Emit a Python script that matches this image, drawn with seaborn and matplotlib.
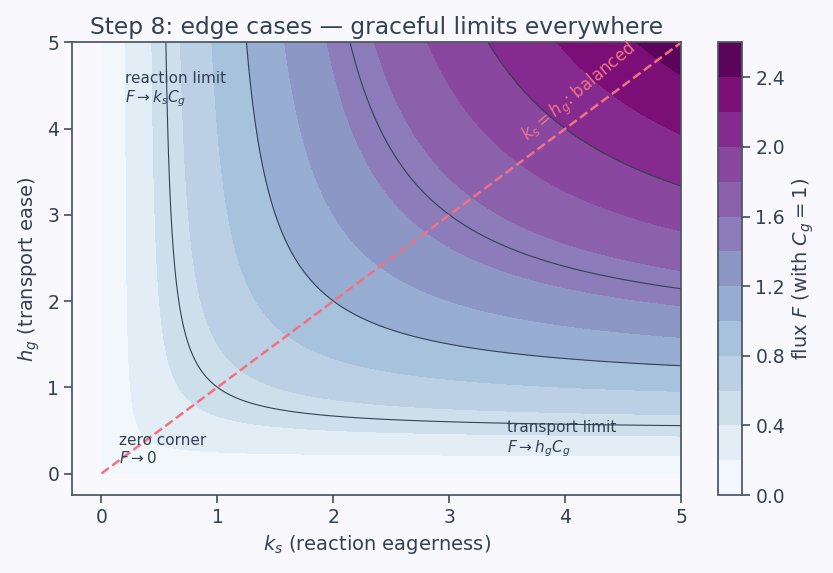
import matplotlib
matplotlib.use("Agg")
import matplotlib.pyplot as plt
import numpy as np
import seaborn as sns

# flux F = ks*hg/(ks+hg) * Cg, with Cg = 1
Cg = 1.0
ks_range = (0.0, 5.0)
hg_range = (0.0, 5.0)
fill_levels = np.round(np.arange(0.0, 2.61, 0.2), 2)
line_levels = [0.5, 1.0, 1.5, 2.0, 2.5]
cbar_ticks = [0.0, 0.4, 0.8, 1.2, 1.6, 2.0, 2.4]
ticks = [0, 1, 2, 3, 4, 5]

ink = "#334155"
bg = "#f9f9fd"

sns.set_theme(style="ticks")
plt.rcParams.update({
    "figure.facecolor": bg,
    "axes.facecolor": bg,
    "axes.edgecolor": "#4b5563",
    "axes.labelcolor": ink,
    "axes.labelsize": 14,
    "xtick.labelsize": 13.5,
    "ytick.labelsize": 13.5,
    "xtick.color": "#4b5563",
    "ytick.color": "#4b5563",
    "xtick.labelcolor": ink,
    "ytick.labelcolor": ink,
    "text.color": ink,
})
plt.rcParams["font.family"] = ["DejaVu Sans"]

ks = np.linspace(*ks_range, 400)
hg = np.linspace(*hg_range, 400)
K, H = np.meshgrid(ks, hg)
with np.errstate(invalid="ignore", divide="ignore"):
    F = np.where(K + H > 0, K * H / (K + H), 0.0) * Cg

fig = plt.figure(figsize=(8.33, 5.73), dpi=100)
ax = fig.add_axes([0.087, 0.136, 0.731, 0.79])
cax = fig.add_axes([0.862, 0.136, 0.029, 0.79])

cf = ax.contourf(K, H, F, levels=fill_levels, cmap="BuPu")
ax.contour(K, H, F, levels=line_levels, colors=ink, linewidths=0.8)
ax.plot(ks, ks, ls="--", color="#f07283", lw=1.8)

ax.set_xlim(-0.25, 5)
ax.set_ylim(-0.25, 5)
ax.set_xticks(ticks)
ax.set_yticks(ticks)
ax.set_xlabel(r"$k_s$ (reaction eagerness)")
ax.set_ylabel(r"$h_g$ (transport ease)")
ax.set_title("Step 8: edge cases — graceful limits everywhere", fontsize=16.8, color=ink)

ax.text(0.2, 4.3, "reaction limit\n" + r"$F \to k_s C_g$", fontsize=11, color=ink)
ax.text(0.15, 0.12, "zero corner\n" + r"$F \to 0$", fontsize=11, color=ink)
ax.text(3.5, 0.25, "transport limit\n" + r"$F \to h_g C_g$", fontsize=11, color=ink)
ax.text(3.68, 3.85, r"$k_s = h_g$: balanced", fontsize=12, color="#f07283",
        rotation=40, rotation_mode="anchor")

cb = fig.colorbar(cf, cax=cax, ticks=cbar_ticks)
cb.set_label(r"flux $F$ (with $C_g = 1$)", color=ink, fontsize=14)
cb.outline.set_edgecolor("#4b5563")
cb.ax.tick_params(labelsize=13.5)
cb.ax.yaxis.set_major_formatter(matplotlib.ticker.FormatStrFormatter("%.1f"))

fig.savefig("out.png", dpi=100, facecolor=bg)
